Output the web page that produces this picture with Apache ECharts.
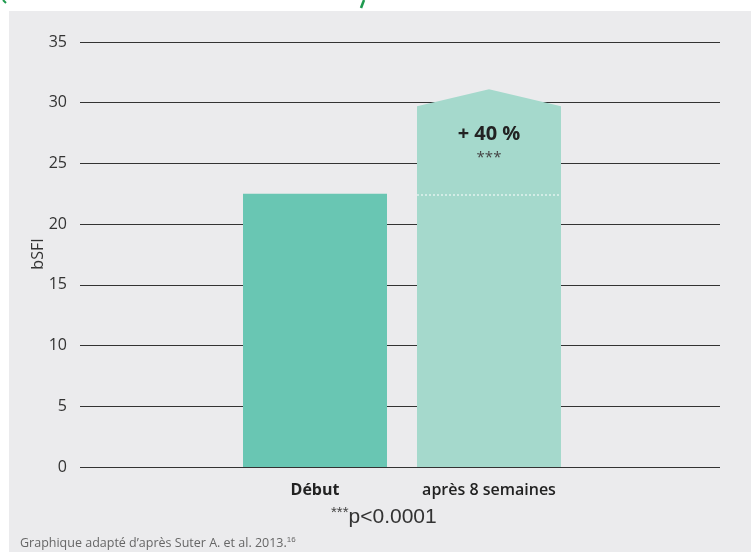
<!DOCTYPE html>
<html>
<head>
<meta charset="utf-8">
<script src="https://cdn.jsdelivr.net/npm/echarts@6/dist/echarts.min.js"></script>
<style>
  html, body { margin: 0; padding: 0; background: #fff; }
  #chart { width: 751px; height: 557px; }
</style>
</head>
<body>
<div id="chart"></div>
<script>
// données
const categories = ['Début', 'après 8 semaines'];
const debutValues = [22.5, null];
// barre "après" : hauteur des côtés, sommet de la flèche, niveau de départ (pointillés)
const apresSide = 29.7;
const apresPeak = 31.1;
const apresBase = 22.4;
const yTicks = [0, 35, 5]; // min, max, interval

let myChart = echarts.init(document.getElementById('chart'));

const font = '"Open Sans", "Noto Sans", sans-serif';

let option = {
  animation: false,
  textStyle: { fontFamily: font },
  graphic: [
    // fond gris
    { type: 'rect', z: -10, shape: { x: 9, y: 11, width: 742, height: 541 }, style: { fill: '#ebebed' } },
    // traits verts coupés en haut
    { type: 'line', shape: { x1: 3, y1: 0, x2: 6, y2: 3 }, style: { stroke: '#1f9a4f', lineWidth: 2 } },
    { type: 'line', shape: { x1: 364, y1: 0, x2: 361, y2: 8 }, style: { stroke: '#1f9a4f', lineWidth: 2.5 } },
    // p-value
    {
      type: 'text', left: 331, top: 505,
      style: {
        text: '{s|***}{p|p<0.0001}',
        rich: {
          s: { fontSize: 15, fill: '#444', verticalAlign: 'top', padding: [0, 0, 10, 0] },
          p: { fontSize: 21, fill: '#333' }
        },
        fontFamily: font
      }
    },
    // source
    {
      type: 'text', left: 20, top: 536,
      style: {
        text: 'Graphique adapté d\u2019après Suter A. et al. 2013.{sup|16}',
        fontSize: 12.5, fill: '#666', fontFamily: font,
        rich: { sup: { fontSize: 8, fill: '#666', padding: [0, 0, 7, 0] } }
      }
    },
    // titre de l'axe y
    {
      type: 'text', x: 38, y: 254, rotation: Math.PI / 2,
      style: { text: 'bSFI', fontSize: 16, fill: '#333', fontFamily: font, align: 'center', verticalAlign: 'middle' }
    }
  ],
  grid: [
    { left: 80, right: 31, top: 42, bottom: 90 },
    { left: 228, right: 175, top: 42, bottom: 90 }
  ],
  xAxis: [
    { gridIndex: 0, type: 'value', min: 0, max: 1, show: false },
    {
      gridIndex: 1, type: 'category', data: categories,
      axisLine: { show: false }, axisTick: { show: false },
      axisLabel: {
        interval: 0, hideOverlap: false,
        margin: 15, fontSize: 16, color: '#222',
        formatter: (v, i) => i === 0 ? '{b|' + v + '}' : '{m|' + v + '}',
        rich: {
          b: { fontSize: 16, fontWeight: 'bold', color: '#222', fontFamily: font },
          m: { fontSize: 16, fontWeight: 600, color: '#222', fontFamily: font }
        }
      }
    }
  ],
  yAxis: [
    {
      gridIndex: 0, type: 'value', min: yTicks[0], max: yTicks[1], interval: yTicks[2],
      axisLine: { show: false }, axisTick: { show: false },
      axisLabel: { margin: 13, fontSize: 16, color: '#333' },
      splitLine: { lineStyle: { color: '#333', width: 1 } }
    },
    { gridIndex: 1, type: 'value', min: yTicks[0], max: yTicks[1], interval: yTicks[2], show: false }
  ],
  series: [
    {
      type: 'bar', xAxisIndex: 1, yAxisIndex: 1,
      data: debutValues, barWidth: 144,
      itemStyle: { color: '#69c6b3' }
    },
    {
      type: 'custom', xAxisIndex: 1, yAxisIndex: 1,
      data: [[1, apresSide, apresPeak, apresBase]],
      renderItem: function (params, api) {
        const c = api.value(0);
        const p0 = api.coord([c, 0]);
        const pS = api.coord([c, api.value(1)]);
        const pP = api.coord([c, api.value(2)]);
        const pB = api.coord([c, api.value(3)]);
        const hw = 72;
        return {
          type: 'group',
          children: [
            {
              type: 'polygon',
              shape: { points: [[p0[0] - hw, p0[1]], [pS[0] - hw, pS[1]], [pP[0], pP[1]], [pS[0] + hw, pS[1]], [p0[0] + hw, p0[1]]] },
              style: { fill: '#a5d9cc' }
            },
            {
              type: 'line',
              shape: { x1: pB[0] - hw, y1: pB[1], x2: pB[0] + hw, y2: pB[1] },
              style: { stroke: '#fff', lineWidth: 1, lineDash: [2, 2] }
            },
            {
              type: 'text',
              style: { text: '+ 40 %', x: pP[0], y: pP[1] + 45, align: 'center', verticalAlign: 'middle', fontSize: 20, fontWeight: 'bold', fill: '#222', fontFamily: font }
            },
            {
              type: 'text',
              style: { text: '***', x: pP[0], y: pP[1] + 68, align: 'center', verticalAlign: 'middle', fontSize: 15, fill: '#444', fontFamily: font }
            }
          ]
        };
      }
    }
  ]
};

myChart.setOption(option);
</script>
</body>
</html>
